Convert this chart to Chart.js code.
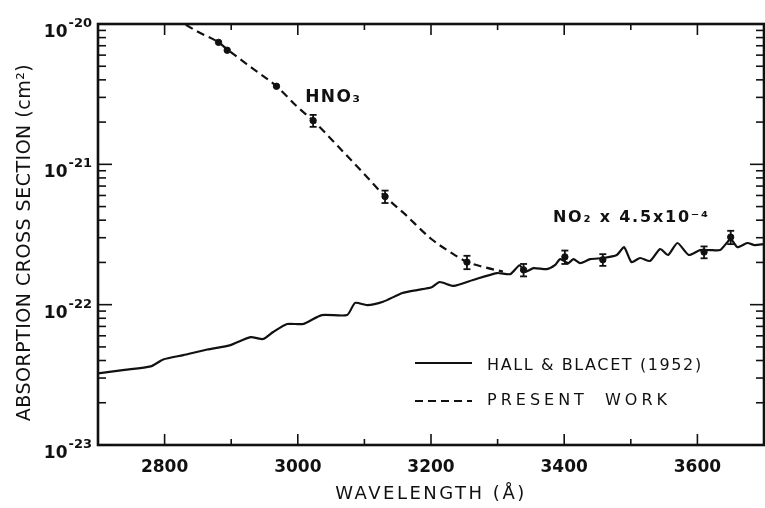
<!DOCTYPE html>
<html>
<head>
<meta charset="utf-8">
<script src="https://cdn.jsdelivr.net/npm/chart.js@4.4.0/dist/chart.umd.min.js"></script>
<style>
  html, body { margin: 0; padding: 0; background: #fff; }
</style>
</head>
<body>
<canvas id="myChart" width="765" height="508"></canvas>
<script>
// NO2 cross section (Hall & Blacet 1952) scaled by 4.5e-4
const no2Wavelength = [2700, 2740, 2779, 2798, 2828, 2864, 2899, 2929, 2948, 2963, 2984, 3008, 3036, 3074, 3086, 3104, 3128, 3157, 3179, 3201, 3213, 3234, 3263, 3299, 3319, 3333, 3341, 3354, 3374, 3386, 3394, 3406, 3414, 3424, 3439, 3459, 3479, 3490, 3501, 3514, 3529, 3544, 3556, 3570, 3587, 3604, 3619, 3634, 3645, 3650, 3660, 3675, 3686, 3700];
const no2Cross = [3.24e-23, 3.43e-23, 3.63e-23, 4.07e-23, 4.37e-23, 4.79e-23, 5.15e-23, 5.87e-23, 5.69e-23, 6.38e-23, 7.28e-23, 7.28e-23, 8.43e-23, 8.43e-23, 1.03e-22, 9.93e-23, 1.05e-22, 1.21e-22, 1.27e-22, 1.33e-22, 1.45e-22, 1.36e-22, 1.50e-22, 1.68e-22, 1.65e-22, 1.91e-22, 1.71e-22, 1.82e-22, 1.79e-22, 1.91e-22, 2.11e-22, 1.98e-22, 2.11e-22, 1.98e-22, 2.11e-22, 2.15e-22, 2.26e-22, 2.57e-22, 2.01e-22, 2.15e-22, 2.05e-22, 2.49e-22, 2.26e-22, 2.75e-22, 2.26e-22, 2.45e-22, 2.45e-22, 2.45e-22, 2.79e-22, 2.95e-22, 2.57e-22, 2.75e-22, 2.66e-22, 2.70e-22];

// HNO3 smooth curve (present work)
const hno3Wavelength = [2815, 2850, 2881, 2894, 2930, 2968, 3000, 3023, 3060, 3100, 3131, 3160, 3200, 3230, 3254, 3280, 3308];
const hno3Cross = [1.1e-20, 8.8e-21, 7.4e-21, 6.6e-21, 4.9e-21, 3.6e-21, 2.55e-21, 2.05e-21, 1.35e-21, 8.5e-22, 5.9e-22, 4.45e-22, 2.95e-22, 2.35e-22, 2.02e-22, 1.85e-22, 1.72e-22];

// measured HNO3 points with error bars
const pointWavelength = [2881, 2894, 2968, 3023, 3131, 3254, 3339, 3401, 3458, 3610, 3650];
const pointCross = [7.4e-21, 6.5e-21, 3.6e-21, 2.05e-21, 5.9e-22, 2.01e-22, 1.77e-22, 2.19e-22, 2.09e-22, 2.37e-22, 3.03e-22];
const pointError = [0, 0, 0, 0.2e-21, 0.6e-22, 0.22e-22, 0.18e-22, 0.24e-22, 0.2e-22, 0.23e-22, 0.33e-22];

const xLabels = [2800, 3000, 3200, 3400, 3600];
const yDecades = [-23, -22, -21, -20];

const FONT = 'DejaVu Sans';
const INK = '#111';

function toXY(xs, ys) {
    let out = [];
    for (let i = 0; i < xs.length; i++) {
        out.push({ x: xs[i], y: ys[i] });
    }
    return out;
}

function line(ctx, x1, y1, x2, y2) {
    ctx.beginPath();
    ctx.moveTo(x1, y1);
    ctx.lineTo(x2, y2);
    ctx.stroke();
}

// frame, inward ticks, error bars, labels and legend
const decorations = {
    id: 'decorations',
    afterDraw(chart) {
        const ctx = chart.ctx;
        const a = chart.chartArea;
        const xs = chart.scales.x;
        const ys = chart.scales.y;

        ctx.save();
        ctx.strokeStyle = INK;
        ctx.fillStyle = INK;

        // error bars
        ctx.lineWidth = 1.8;
        for (let i = 0; i < pointWavelength.length; i++) {
            if (!pointError[i]) continue;
            const px = xs.getPixelForValue(pointWavelength[i]);
            const top = ys.getPixelForValue(pointCross[i] + pointError[i]);
            const bot = ys.getPixelForValue(pointCross[i] - pointError[i]);
            line(ctx, px, top, px, bot);
            line(ctx, px - 3.5, top, px + 3.5, top);
            line(ctx, px - 3.5, bot, px + 3.5, bot);
        }

        // frame
        ctx.lineWidth = 2.6;
        ctx.strokeRect(a.left, a.top, a.right - a.left, a.bottom - a.top);

        // x ticks, pointing inward on bottom and top
        ctx.lineWidth = 1.6;
        for (let v = xs.min + 100; v < xs.max; v += 100) {
            const px = xs.getPixelForValue(v);
            const len = v % 200 === 0 ? 11 : 6;
            line(ctx, px, a.bottom, px, a.bottom - len);
            line(ctx, px, a.top, px, a.top + len);
        }

        // y ticks, log minors
        for (let e = yDecades[0]; e < yDecades[yDecades.length - 1]; e++) {
            for (let m = 1; m <= 9; m++) {
                const py = ys.getPixelForValue(m * Math.pow(10, e));
                const len = m === 1 ? 14 : 8;
                line(ctx, a.left, py, a.left + len, py);
                line(ctx, a.right, py, a.right - len, py);
            }
        }

        // y tick labels: 10 with a raised exponent
        ctx.textAlign = 'right';
        ctx.textBaseline = 'alphabetic';
        yDecades.forEach(e => {
            const py = ys.getPixelForValue(Math.pow(10, e));
            const right = a.left - 6;
            ctx.font = 'bold 13px ' + FONT;
            ctx.fillText(String(e), right, py + 3);
            const w = ctx.measureText(String(e)).width;
            ctx.font = 'bold 17px ' + FONT;
            ctx.fillText('10', right - w - 1, py + 13);
        });

        // curve labels
        ctx.textAlign = 'left';
        ctx.font = 'bold 17px ' + FONT;
        ctx.letterSpacing = '1.5px';
        ctx.fillText('HNO₃', xs.getPixelForValue(3011), ys.getPixelForValue(2.78e-21));
        ctx.font = 'bold 16px ' + FONT;
        ctx.letterSpacing = '1.8px';
        ctx.fillText('NO₂ x 4.5x10⁻⁴', xs.getPixelForValue(3383), ys.getPixelForValue(3.88e-22));

        // legend
        const ds = chart.data.datasets;
        const rows = [
            { d: ds[0], y: 339, ty: 342, ls: '1.6px', ws: '0px' },
            { d: ds[1], y: 377, ty: 377, ls: '4px', ws: '8px' }
        ];
        ctx.font = '16px ' + FONT;
        ctx.textBaseline = 'middle';
        ctx.lineWidth = 2.2;
        rows.forEach(r => {
            ctx.setLineDash(r.d.borderDash || []);
            line(ctx, a.left + 317, a.top + r.y, a.left + 374, a.top + r.y);
            ctx.setLineDash([]);
            ctx.letterSpacing = r.ls;
            ctx.wordSpacing = r.ws;
            ctx.fillText(r.d.label, a.left + 389, a.top + r.ty);
        });
        ctx.wordSpacing = '0px';

        // axis titles
        ctx.textAlign = 'center';
        ctx.font = '18px ' + FONT;
        ctx.letterSpacing = '2.5px';
        ctx.fillText('WAVELENGTH (Å)', (a.left + a.right) / 2, 494);

        ctx.translate(25, (a.top + a.bottom) / 2 + 8);
        ctx.rotate(-Math.PI / 2);
        ctx.font = '19px ' + FONT;
        ctx.letterSpacing = '0.5px';
        ctx.fillText('ABSORPTION CROSS SECTION (cm²)', 0, 0);

        ctx.restore();
    }
};

const ctx = document.getElementById('myChart');

new Chart(ctx, {
    type: 'line',
    data: {
        datasets: [{
            label: 'HALL & BLACET (1952)',
            data: toXY(no2Wavelength, no2Cross),
            borderColor: INK,
            borderWidth: 2.2,
            pointRadius: 0,
            tension: 0.2
        }, {
            label: 'PRESENT WORK',
            data: toXY(hno3Wavelength, hno3Cross),
            borderColor: INK,
            borderWidth: 2.2,
            borderDash: [8, 5],
            pointRadius: 0,
            cubicInterpolationMode: 'monotone'
        }, {
            label: 'points',
            data: toXY(pointWavelength, pointCross),
            showLine: false,
            pointRadius: 3.2,
            pointBackgroundColor: INK,
            pointBorderColor: INK
        }]
    },
    options: {
        responsive: false,
        animation: false,
        devicePixelRatio: 1,
        layout: { autoPadding: false, padding: { top: 24, right: 1, left: 0, bottom: 0 } },
        plugins: {
            legend: { display: false },
            tooltip: { enabled: false }
        },
        scales: {
            x: {
                type: 'linear',
                min: 2700,
                max: 3700,
                grid: { display: false, drawTicks: false },
                border: { display: false },
                afterFit: s => { s.height = 63; s.paddingLeft = 0; s.paddingRight = 0; },
                ticks: {
                    stepSize: 100,
                    autoSkip: false,
                    maxRotation: 0,
                    padding: 12,
                    color: INK,
                    font: { family: FONT, size: 17, weight: 'bold' },
                    callback: v => xLabels.includes(v) ? String(v) : ''
                }
            },
            y: {
                type: 'logarithmic',
                min: Math.pow(10, yDecades[0]),
                max: Math.pow(10, yDecades[yDecades.length - 1]),
                grid: { display: false, drawTicks: false },
                border: { display: false },
                afterFit: s => { s.width = 98; s.paddingTop = 0; s.paddingBottom = 0; },
                ticks: { display: false }
            }
        }
    },
    plugins: [decorations]
});
</script>
</body>
</html>
